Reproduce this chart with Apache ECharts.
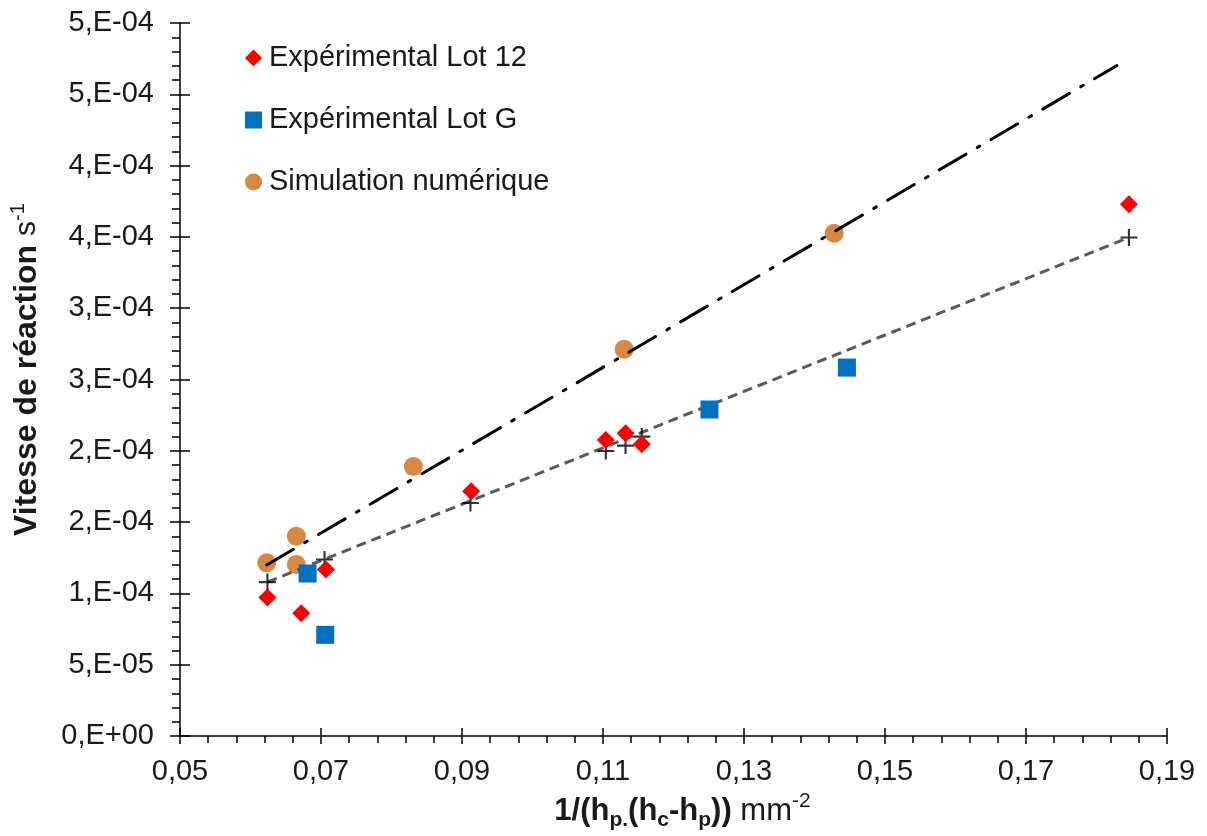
<!DOCTYPE html>
<html>
<head>
<meta charset="utf-8">
<script src="https://cdn.jsdelivr.net/npm/echarts@6/dist/echarts.min.js"></script>
<style>
html,body{margin:0;padding:0;background:#fff;}
#chart{width:1207px;height:836px;}
</style>
</head>
<body>
<div id="chart"></div>
<script>
// ---- data ----
const lot12X = [0.0624, 0.0672, 0.0707, 0.0913, 0.1104, 0.1132, 0.1155, 0.1846];
const lot12Y = [9.71e-5, 8.61e-5, 1.168e-4, 1.716e-4, 2.076e-4, 2.123e-4, 2.046e-4, 3.729e-4];

const lotGX = [0.0681, 0.0706, 0.1251, 0.1446];
const lotGY = [1.140e-4, 7.10e-5, 2.290e-4, 2.584e-4];

const simX = [0.0623, 0.0665, 0.0665, 0.0831, 0.1130, 0.1428];
const simY = [1.215e-4, 1.401e-4, 1.203e-4, 1.890e-4, 2.712e-4, 3.526e-4];

const modelX = [0.0624, 0.0705, 0.0912, 0.1104, 0.1132, 0.1155, 0.1846];
const modelY = [1.080e-4, 1.238e-4, 1.634e-4, 1.999e-4, 2.037e-4, 2.100e-4, 3.496e-4];

const modelLineX = [0.0624, 0.1846];
const modelLineY = [1.080e-4, 3.496e-4];

const simFitX = [0.0623, 0.1829];
const simFitY = [1.200e-4, 4.702e-4];

const xTickLabels = ['0,05','0,07','0,09','0,11','0,13','0,15','0,17','0,19'];
const yTickLabels = ['0,E+00','5,E-05','1,E-04','2,E-04','2,E-04','3,E-04','3,E-04','4,E-04','4,E-04','5,E-04','5,E-04'];

const seriesNames = ['Expérimental Lot 12', 'Expérimental Lot G', 'Simulation numérique'];

// ---- helpers ----
const zip = (xs, ys) => xs.map((x, i) => [x, ys[i]]);
const FONT = 'Liberation Sans, Arial, sans-serif';
const TXT = '#1a1a1a';
const X_MIN = 0.05, X_MAX = 0.19, X_INT = 0.02;
const Y_MIN = 0, Y_MAX = 5e-4, Y_INT = 5e-5;
const plusPath = 'path://M0,7L16,7L16,9L0,9Z M7,0L9,0L9,16L7,16Z';

const chart = echarts.init(document.getElementById('chart'), null, {renderer: 'canvas'});

const baseX = {
  type: 'value', min: X_MIN, max: X_MAX, interval: X_INT, gridIndex: 0,
  splitLine: {show: false}
};
const baseY = {
  type: 'value', min: Y_MIN, max: Y_MAX, interval: Y_INT, gridIndex: 0,
  splitLine: {show: false}
};

const option = {
  backgroundColor: '#ffffff',
  animation: false,
  textStyle: {fontFamily: FONT},
  grid: {left: 172, right: 40, top: 23, bottom: 97, containLabel: false},
  legend: {
    data: seriesNames,
    orient: 'vertical',
    left: 240, top: 38,
    itemWidth: 17, itemHeight: 17,
    itemGap: 32,
    textStyle: {fontFamily: FONT, fontSize: 29, color: TXT, lineHeight: 30, padding: [0,0,0,2]}
  },
  xAxis: [
    Object.assign({}, baseX, {
      position: 'bottom',
      axisLine: {show: true, onZero: false, lineStyle: {color: '#000', width: 1.5}},
      axisTick: {show: true, inside: false, length: 8, lineStyle: {color: '#000', width: 1.5}},
      minorTick: {show: true, splitNumber: 5, length: 7, lineStyle: {color: '#000', width: 1.5}},
      axisLabel: {
        show: true, margin: 21, fontSize: 29, color: TXT, fontFamily: FONT,
        formatter: v => xTickLabels[Math.round((v - X_MIN) / X_INT)]
      },
      name: '{b|1/(h}{sb|p.}{b|(h}{sb|c}{b|-h}{sb|p}{b|))}{n| mm}{sp|-2}',
      nameLocation: 'middle',
      nameGap: 54,
      nameTextStyle: {
        padding: [0, 0, 0, 18],
        rich: {
          b: {fontSize: 31, fontWeight: 'bold', color: TXT, fontFamily: FONT, lineHeight: 40, verticalAlign: 'middle'},
          n: {fontSize: 31, color: TXT, fontFamily: FONT, lineHeight: 40, verticalAlign: 'middle'},
          sb: {fontSize: 21, fontWeight: 'bold', color: TXT, fontFamily: FONT, lineHeight: 21, verticalAlign: 'bottom'},
          sp: {fontSize: 21, color: TXT, fontFamily: FONT, lineHeight: 21, verticalAlign: 'top'}
        }
      }
    }),
    Object.assign({}, baseX, {
      position: 'bottom',
      axisLine: {show: false, onZero: false},
      axisTick: {show: true, inside: true, length: 8, lineStyle: {color: '#000', width: 1.5}},
      axisLabel: {show: false}
    })
  ],
  yAxis: [
    Object.assign({}, baseY, {
      position: 'left',
      axisLine: {show: true, onZero: false, lineStyle: {color: '#000', width: 1.5}},
      axisTick: {show: true, inside: false, length: 10, lineStyle: {color: '#000', width: 1.5}},
      minorTick: {show: true, splitNumber: 5, length: 8, lineStyle: {color: '#000', width: 1.5}},
      axisLabel: {
        show: true, margin: 26, fontSize: 29, color: TXT, fontFamily: FONT,
        formatter: v => yTickLabels[Math.round((v - Y_MIN) / Y_INT)]
      },
      name: '{b|Vitesse de réaction }{n|s}{sp|-1}',
      nameLocation: 'middle',
      nameRotate: 90,
      nameGap: 134,
      nameTextStyle: {
        padding: [0, 0, 0, 20],
        rich: {
          b: {fontSize: 32, fontWeight: 'bold', color: TXT, fontFamily: FONT, lineHeight: 38, verticalAlign: 'middle'},
          n: {fontSize: 30, color: TXT, fontFamily: FONT, lineHeight: 38, verticalAlign: 'middle'},
          sp: {fontSize: 20, color: TXT, fontFamily: FONT, lineHeight: 20, verticalAlign: 'top'}
        }
      }
    }),
    Object.assign({}, baseY, {
      position: 'left',
      axisLine: {show: false, onZero: false},
      axisTick: {show: true, inside: true, length: 10, lineStyle: {color: '#000', width: 1.5}},
      axisLabel: {show: false}
    })
  ],
  series: [
    {
      name: seriesNames[2], type: 'scatter', xAxisIndex: 0, yAxisIndex: 0,
      data: zip(simX, simY), symbol: 'circle', symbolSize: 19,
      itemStyle: {color: '#D8893F', opacity: 1}, z: 2
    },
    {
      name: 'Tendance simulation', type: 'line', xAxisIndex: 0, yAxisIndex: 0,
      data: zip(simFitX, simFitY), showSymbol: false, symbol: 'none',
      lineStyle: {color: '#000', width: 3, type: [31, 13, 3, 13], cap: 'round'}, z: 3,
      silent: true
    },
    {
      name: 'Modèle line', type: 'line', xAxisIndex: 0, yAxisIndex: 0,
      data: zip(modelLineX, modelLineY), showSymbol: false, symbol: 'none',
      lineStyle: {color: '#5a5a5a', width: 3, type: [10, 6]}, z: 3,
      silent: true
    },
    {
      name: 'Modèle', type: 'scatter', xAxisIndex: 0, yAxisIndex: 0,
      data: zip(modelX, modelY), symbol: plusPath, symbolSize: 17,
      itemStyle: {color: '#000'}, z: 4
    },
    {
      name: seriesNames[0], type: 'scatter', xAxisIndex: 0, yAxisIndex: 0,
      data: zip(lot12X, lot12Y), symbol: 'diamond', symbolSize: 18,
      itemStyle: {color: '#FF0000', opacity: 1}, z: 5
    },
    {
      name: seriesNames[1], type: 'scatter', xAxisIndex: 0, yAxisIndex: 0,
      data: zip(lotGX, lotGY), symbol: 'rect', symbolSize: 18,
      itemStyle: {color: '#0070C0', opacity: 1}, z: 5
    }
  ]
};
chart.setOption(option);
</script>
</body>
</html>
